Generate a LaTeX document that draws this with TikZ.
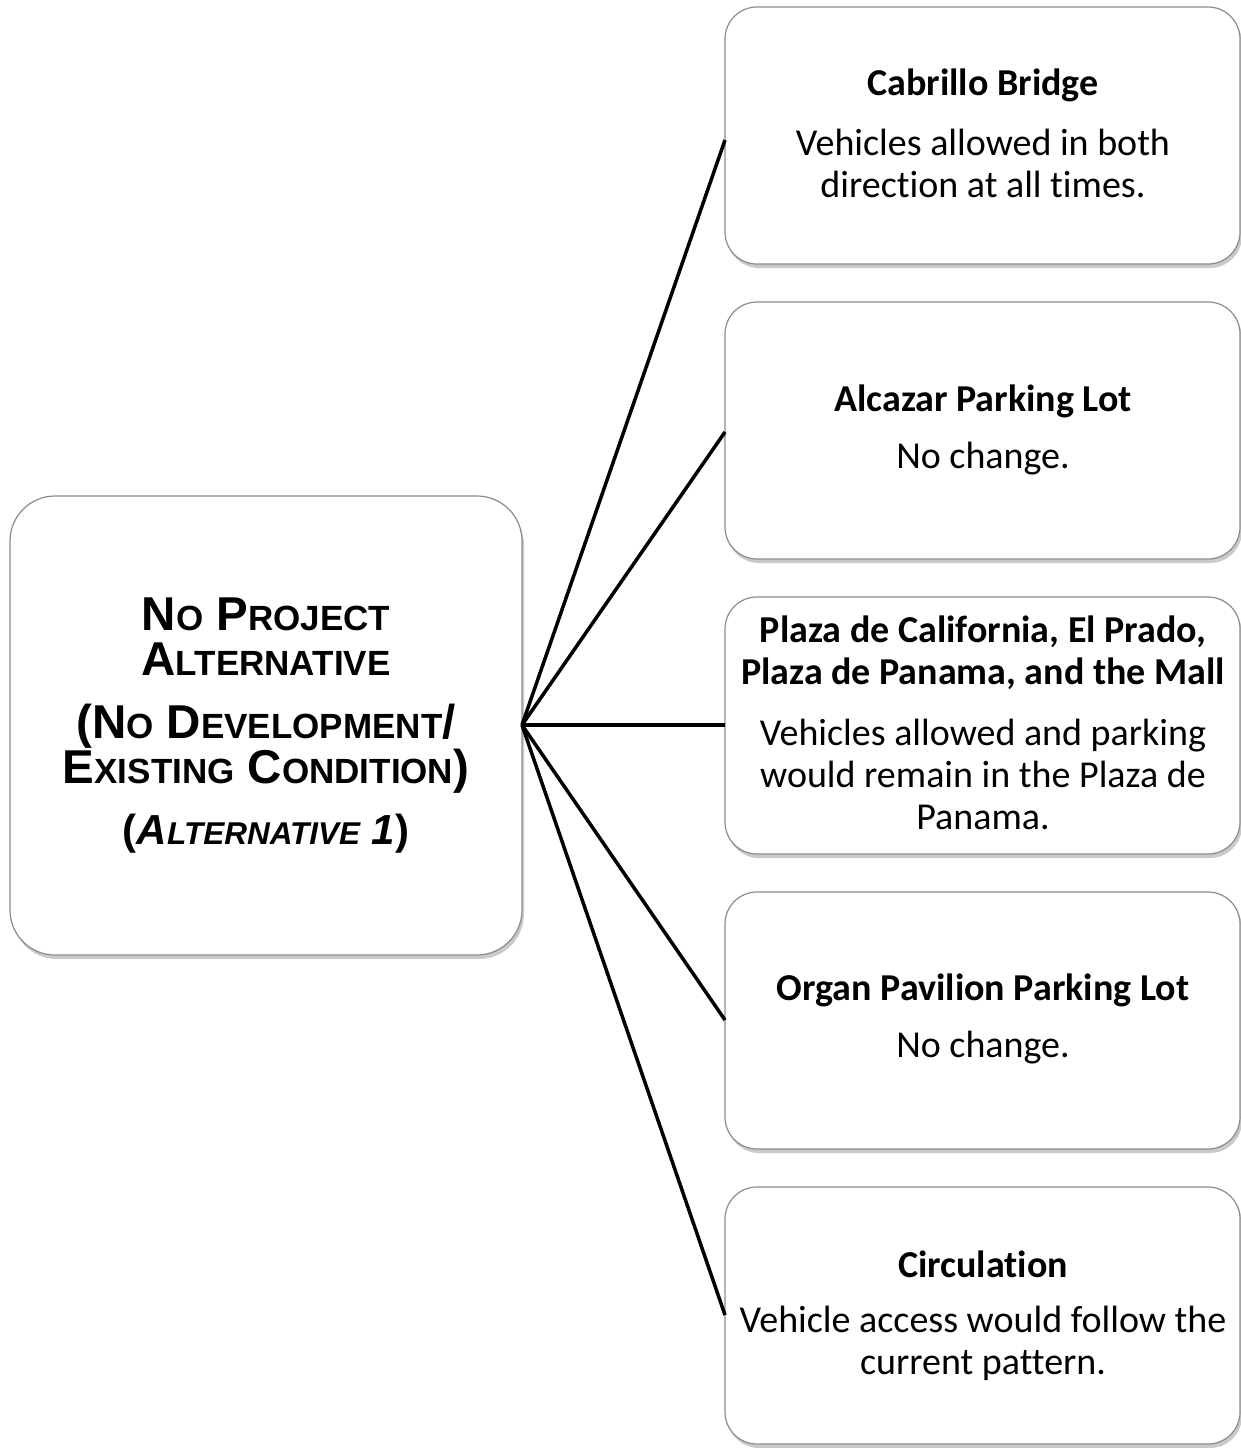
\documentclass[tikz,border=0pt]{standalone}
\usepackage{fontspec}
\setmainfont{Carlito}[RawFeature={-liga;-clig;-dlig}]
\newfontfamily\arialfont{Liberation Sans}
\usetikzlibrary{shadows}
\begin{document}
\begin{tikzpicture}[x=1pt,y=-1pt,
  box/.style={draw=black!45, line width=1.2pt, fill=white, rounded corners=32pt,
    drop shadow={shadow xshift=2pt, shadow yshift=-4pt, opacity=0.35, fill=black!60}},
  conn/.style={line width=3.5pt, black}]
\useasboundingbox (0,0) rectangle (1241,1448);
\newcommand{\smc}[1]{{\fontsize{35}{40}\selectfont #1}}
\newcommand{\smcb}[1]{{\fontsize{31.5}{34}\selectfont #1}}
% left box
\draw[box, rounded corners=45pt] (10,496) rectangle (522,955);
\node (main) at (266,725) {};
\coordinate (hub) at (522,725);
\node[align=center, font=\arialfont\bfseries\fontsize{47.5}{45}\selectfont] (mt) at (266,637)
  {N\smc{O} P\smc{ROJECT}\\A\smc{LTERNATIVE}};
\node[align=center, font=\arialfont\bfseries\fontsize{47.5}{45}\selectfont] (md) at (266,749)
  {(N\smc{O} D\smc{EVELOPMENT}/\\E\smc{XISTING} C\smc{ONDITION})};
\node[font=\arialfont\bfseries\fontsize{42}{44}\selectfont] (ma) at (266,834)
  {(\textit{A\smcb{LTERNATIVE} 1})};
% right boxes
\foreach \n/\t in {b1/7,b2/302,b3/597,b4/892,b5/1187}{
  \draw[box] (725,\t) rectangle (1240,\t+257);
}
\coordinate (e1) at (725,140);
\coordinate (e2) at (725,432);
\coordinate (e3) at (725,725);
\coordinate (e4) at (725,1020);
\coordinate (e5) at (725,1315);
\foreach \e in {e1,e2,e3,e4,e5}{ \draw[conn] (hub) -- (\e); }
\tikzset{ttl/.style={font=\bfseries\fontsize{38}{42}\selectfont, align=center},
         txt/.style={font=\fontsize{38}{42}\selectfont, align=center}}
\node[ttl] (t1) at (983,85) {Cabrillo Bridge};
\node[txt] (d1) at (983,163) {Vehicles allowed in both\\direction at all times.};
\node[ttl] (t2) at (983,401) {Alcazar Parking Lot};
\node[txt] (d2) at (983,459) {No change.};
\node[ttl] (t3) at (983,653) {Plaza de California, El Prado,\\Plaza de Panama, and the Mall};
\node[txt] (d3) at (983,774) {Vehicles allowed and parking\\would remain in the Plaza de\\Panama.};
\node[ttl] (t4) at (983,990) {Organ Pavilion Parking Lot};
\node[txt] (d4) at (983,1048) {No change.};
\node[ttl] (t5) at (983,1264) {Circulation};
\node[txt] (d5) at (983,1343) {Vehicle access would follow the\\current pattern.};
\end{tikzpicture}
\end{document}
